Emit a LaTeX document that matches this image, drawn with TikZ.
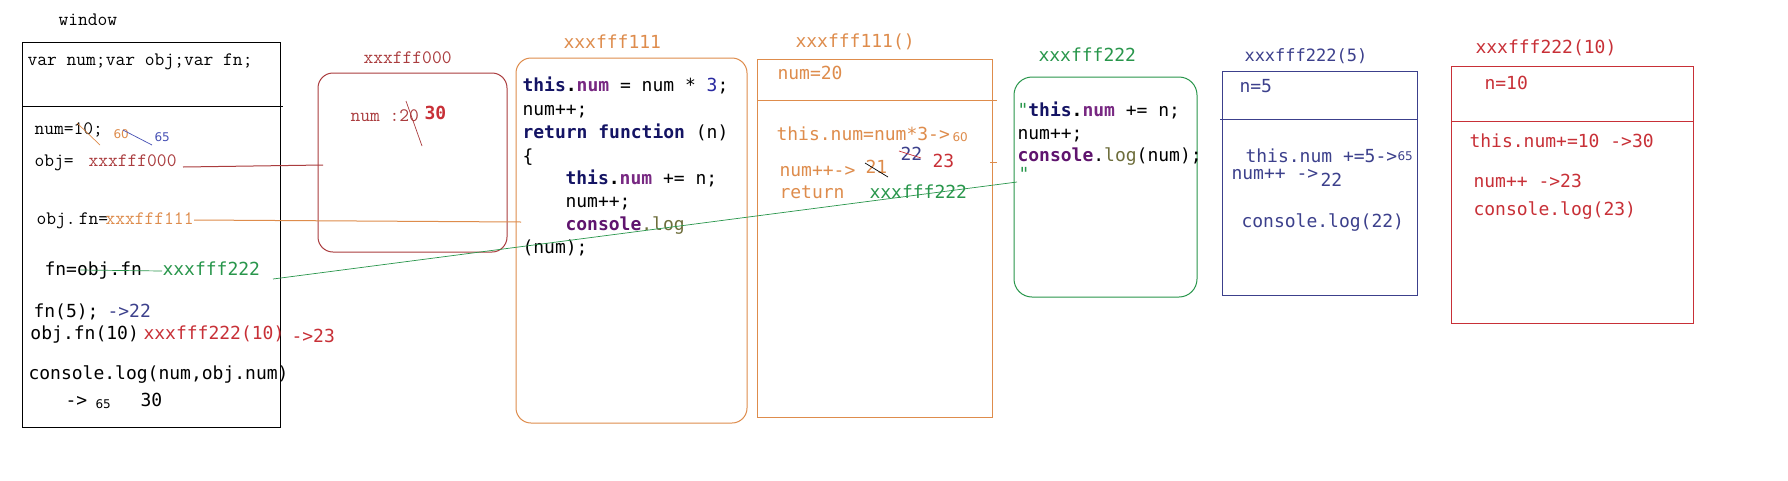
\documentclass[tikz,border=0pt]{standalone}
\usepackage{fontspec}
\newfontfamily\consf{DejaVu Sans Mono}
\newcommand\simsf{\ttfamily}
\newfontfamily\smallf{DejaVu Sans}
\definecolor{dred}{RGB}{170,60,62}
\definecolor{orng}{RGB}{222,140,76}
\definecolor{grn}{RGB}{40,150,75}
\definecolor{navyb}{RGB}{60,64,140}
\definecolor{redb}{RGB}{200,48,55}
\definecolor{kw}{RGB}{20,20,100}
\definecolor{prp}{RGB}{120,40,130}
\definecolor{cns}{RGB}{95,20,110}
\definecolor{olv}{RGB}{110,110,60}
\definecolor{numb}{RGB}{40,40,160}
\definecolor{blu}{RGB}{70,80,180}
\begin{document}
\begin{tikzpicture}[x=1pt,y=-1pt,line width=1pt,
  codet/.style={font=\consf\fontsize{18}{22}\selectfont,anchor=west,inner sep=0pt,text height=13pt,text depth=4pt},
  sert/.style={font=\simsf\fontsize{19}{22}\selectfont,anchor=west,inner sep=0pt,text height=12pt,text depth=4pt},
  smallt/.style={font=\smallf\fontsize{12}{14}\selectfont,anchor=west,inner sep=0pt,text height=9pt,text depth=1pt},
  rbox/.style={draw,rounded corners=15pt,inner sep=0pt},
  sbox/.style={draw,inner sep=0pt},
  thin/.style={line width=0.7pt}]
\fill[white] (0,0) rectangle (1788,480);
\useasboundingbox (0,0) rectangle (1788,480);

% ---------------- window ----------------
\node[sert] (wlab) at (58,21) {window};
\node[sbox,minimum width=258pt,minimum height=385pt] (winbox) at (151,234.5) {};
\draw (22,106) -- (283,106);
\node[sert] (wvar) at (27,61) {var num;var obj;var fn;};
\node[sert] (wnum) at (34,130) {num=10;};
\draw[orng,thin] (77,123) -- (100,145);
\node[smallt,text=orng] (w60) at (113,134) {60};
\draw[blu,thin] (123,130) -- (152,145);
\node[smallt,text=blu] (w65) at (154,137) {65};
\node[sert] (wobj) at (34,162) {obj=};
\node[sert,text=dred] (ref000) at (88,162) {xxxfff000};
\node[sert] (wobjfn) at (36,220) {obj.\,fn=};
\node[sert,text=orng] (ref111) at (105,220) {xxxfff111};
\node[codet] (wfn) at (44,271) {fn=obj.fn};
\node[codet,text=grn] (ref222) at (162,271) {xxxfff222};
\draw[grn,thin] (80,270) -- (ref222.west);
\node[codet] (wfn5) at (33,313) {fn(5);};
\node[codet,text=navyb] (w22) at (107,313) {->22};
\node[codet] (wobjfn10) at (30,335) {obj.fn(10)};
\node[codet,text=redb] (wref10) at (143,335) {xxxfff222(10)};
\node[codet,text=redb] (w23) at (291,338) {->23};
\node[codet] (wlog) at (28,375) {console.log(num,obj.num)};
\node[codet] (warr) at (65,402) {->};
\node[smallt] (wr65) at (95,404) {65};
\node[codet] (wr30) at (140,402) {30};

% ---------------- xxxfff000 ----------------
\node[sert,text=dred] (lab000) at (363,59) {xxxfff000};
\node[rbox,dred,minimum width=189pt,minimum height=179pt] (box000) at (412.5,162.5) {};
\node[sert,text=dred] (num20) at (350,117) {num :20};
\node[codet,text=redb,font=\consf\bfseries\fontsize{18}{22}\selectfont] (num30) at (424,115) {30};
\draw[dred,thin] (406,101) -- (422,146);
\coordinate (e000) at (323,165);
\draw[dred] (183,167) -- (e000);

% ---------------- xxxfff111 ----------------
\node[codet,text=orng] (lab111) at (563,44) {xxxfff111};
\node[rbox,orng,minimum width=231pt,minimum height=365pt] (box111) at (631.5,240.5) {};
\node[codet] (c1) at (522,87) {\textbf{\textcolor{kw}{this}.\textcolor{prp}{num}} = num * \textcolor{numb}{3};};
\node[codet] (c2) at (522,111) {num++;};
\node[codet] (c3) at (522,134) {\textbf{\textcolor{kw}{return function}} (n)};
\node[codet] (c4) at (522,158) {\{};
\node[codet] (c5) at (565,180) {\textbf{\textcolor{kw}{this}.\textcolor{prp}{num}} += n;};
\node[codet] (c6) at (565,203) {num++;};
\node[codet] (c7) at (565,226) {\textbf{\textcolor{cns}{console}}\textcolor{olv}{.log}};
\node[codet] (c8) at (522,249) {(num);};
\coordinate (e111) at (521,222);
\draw[orng] (ref111.east) -- (e111);

% ---------------- xxxfff111() ----------------
\node[codet,text=orng] (lab111c) at (795,43) {xxxfff111()};
\node[sbox,orng,minimum width=235pt,minimum height=358pt] (box111c) at (874.5,238) {};
\draw[orng] (757,100) -- (997,100);
\node[codet,text=orng] (f1) at (777,75) {num=20};
\node[codet,text=orng] (f2) at (776,136) {this.num=num*3->};
\node[smallt,text=orng] (f60) at (952,137) {60};
\node[codet,text=navyb] (f22) at (900,156) {22};
\draw[redb,thin] (899,151) -- (921,158);
\node[codet,text=redb] (f23) at (932,163) {23};
\node[codet,text=orng] (f3) at (779,172) {num++->};
\node[codet,text=orng] (f21) at (865,169) {21};
\draw[black,thin] (865,163) -- (888,177);
\node[codet,text=orng] (f4) at (779,194) {return};
\node[codet,text=grn] (f222) at (869,194) {xxxfff222};
\draw[orng,thin] (990,162) -- (997,162);

% ---------------- xxxfff222 ----------------
\node[codet,text=grn] (lab222) at (1038,57) {xxxfff222};
\node[rbox,grn,rounded corners=18pt,minimum width=183pt,minimum height=220pt] (box222) at (1105.5,187) {};
\node[codet] (g1) at (1017,112) {\textcolor{grn}{"}\textbf{\textcolor{kw}{this}.\textcolor{prp}{num}} += n;};
\node[codet] (g2) at (1017,135) {num++;};
\node[codet] (g3) at (1017,157) {\textbf{\textcolor{cns}{console}}.\textcolor{olv}{log}(num);};
\node[codet,text=grn] (g4) at (1018,176) {"};

% green connector
\coordinate (gs) at (273,279);
\coordinate (ge) at (1017,182);
\draw[grn,thin] (gs) -- (ge);

% ---------------- xxxfff222(5) ----------------
\node[codet,text=navyb,font=\consf\fontsize{17}{20}\selectfont] (lab5) at (1244,57) {xxxfff222(5)};
\node[sbox,navyb,minimum width=195pt,minimum height=224pt] (box5) at (1319.5,183) {};
\draw[navyb] (1220,119) -- (1417,119);
\node[codet,text=navyb] (h1) at (1239,88) {n=5};
\node[codet,text=navyb] (h2) at (1245,158) {this.num +=5->};
\node[smallt,text=navyb] (h65) at (1397,156) {65};
\node[codet,text=navyb] (h3) at (1231,175) {num++ ->};
\node[codet,text=navyb] (h22) at (1320,182) {22};
\node[codet,text=navyb] (h4) at (1241,223) {console.log(22)};

% ---------------- xxxfff222(10) ----------------
\node[codet,text=redb] (lab10) at (1475,49) {xxxfff222(10)};
\node[sbox,redb,minimum width=242pt,minimum height=257pt] (box10) at (1572,194.5) {};
\draw[redb] (1451,121) -- (1693,121);
\node[codet,text=redb] (k1) at (1484,85) {n=10};
\node[codet,text=redb] (k2) at (1469,143) {this.num+=10 ->30};
\node[codet,text=redb] (k3) at (1473,183) {num++ ->23};
\node[codet,text=redb] (k4) at (1473,211) {console.log(23)};
\end{tikzpicture}
\end{document}
